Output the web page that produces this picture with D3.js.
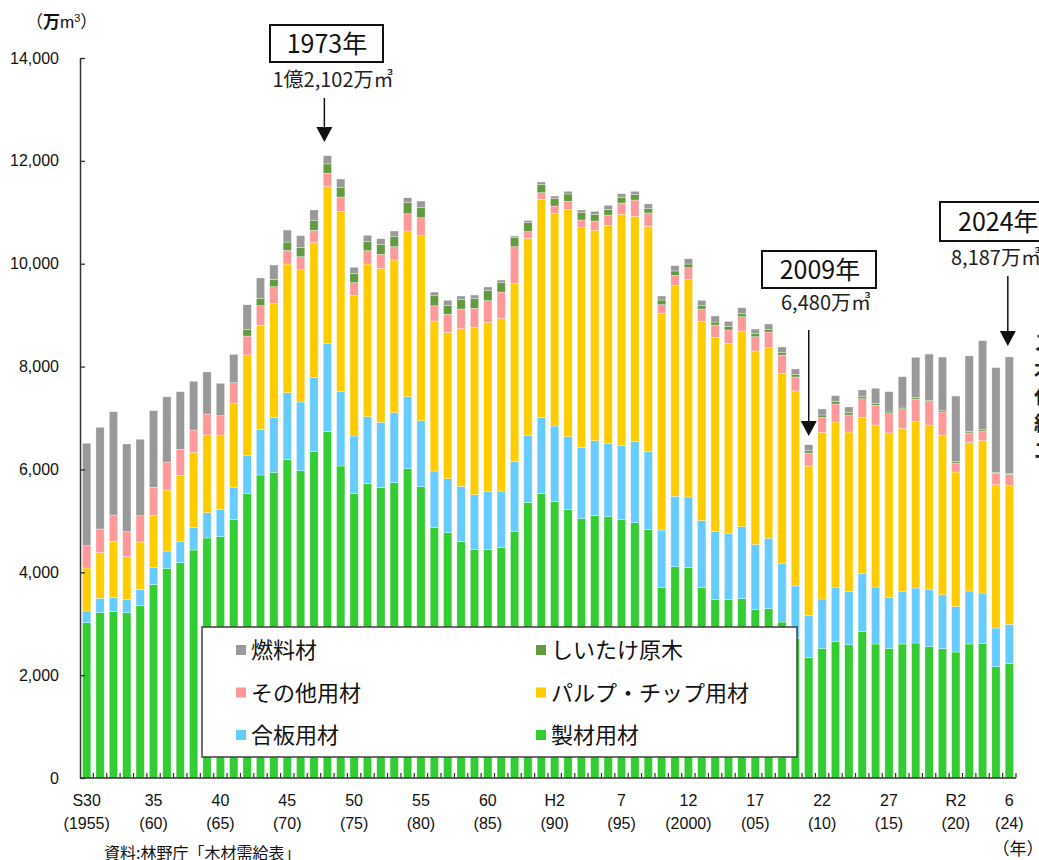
<!DOCTYPE html>
<meta charset="utf-8">
<script src="https://d3js.org/d3.v7.min.js"></script>
<body style="margin:0;background:#fff">
<div id="chart"></div>
<script>
// 用途別木材需要量（万m3）, 1955-2024
var years = [1955,1956,1957,1958,1959,1960,1961,1962,1963,1964,
	1965,1966,1967,1968,1969,1970,1971,1972,1973,1974,
	1975,1976,1977,1978,1979,1980,1981,1982,1983,1984,
	1985,1986,1987,1988,1989,1990,1991,1992,1993,1994,
	1995,1996,1997,1998,1999,2000,2001,2002,2003,2004,
	2005,2006,2007,2008,2009,2010,2011,2012,2013,2014,
	2015,2016,2017,2018,2019,2020,2021,2022,2023,2024];
var sawn = [3020,3214,3234,3214,3350,3766,4077,4186,4433,4667,
	4692,5022,5528,5892,5944,6197,5975,6345,6735,6067,
	5528,5722,5645,5742,6014,5664,4867,4770,4595,4439,
	4439,4478,4789,5361,5536,5376,5217,5042,5100,5081,
	5022,4964,4828,3700,4109,4089,3700,3467,3467,3486,
	3272,3292,3033,2709,2343,2522,2650,2592,2845,2606,
	2522,2606,2625,2553,2514,2450,2606,2611,2164,2222];
var plywood = [227,280,272,261,319,323,336,408,434,492,
	533,622,747,889,1069,1295,1336,1439,1719,1452,
	1122,1303,1272,1361,1400,1283,1102,1050,1077,1069,
	1128,1102,1361,1303,1478,1468,1419,1388,1458,1419,
	1439,1575,1521,1122,1369,1375,1307,1326,1283,1400,
	1268,1371,1134,1025,817,959,1050,1031,1128,1108,
	988,1017,1069,1108,1048,885,1031,986,752,766];
var pulp = [836,887,1097,828,920,1019,1186,1291,1466,1511,
	1431,1647,1950,2022,2209,2502,2572,2625,3045,3500,
	2728,2969,2994,2969,3222,3597,2917,2847,3064,3255,
	3294,3350,3469,3831,4239,4136,4422,4284,4091,4247,
	4499,4383,4379,4214,4095,4225,3873,3776,3702,3805,
	3762,3704,3702,3792,2905,3241,3222,3105,3041,3150,
	3199,3177,3234,3202,3107,2615,2884,2961,2786,2695];
var other = [434,461,511,486,511,544,544,506,434,408,
	389,395,369,381,331,266,253,241,261,278,
	253,259,272,259,336,350,297,350,383,369,
	420,519,712,128,128,142,156,136,181,200,
	220,317,259,167,202,233,239,239,259,278,
	278,305,356,272,253,292,350,331,362,383,
	375,381,441,453,447,175,189,189,222,222];
var shiitake = [0,0,0,0,0,0,0,0,0,0,
	0,0,130,144,144,161,183,187,181,181,
	183,183,194,194,214,194,194,167,181,187,
	194,181,175,175,163,142,142,142,130,111,
	111,103,84,91,84,72,64,58,72,58,
	58,45,45,52,45,45,45,45,39,39,
	33,33,33,27,25,25,25,25,20,20];
var fuel = [1991,1977,2009,1705,1486,1489,1270,1120,947,817,
	630,552,478,395,278,233,226,208,161,169,
	117,117,109,111,97,130,72,105,72,72,
	72,52,33,39,45,52,52,52,58,78,
	70,66,91,78,103,103,105,117,97,117,
	91,111,111,103,117,117,117,111,130,292,
	395,589,778,900,1044,1277,1472,1731,2036,2262];

var keys = ["sawn","plywood","pulp","other","shiitake","fuel"];
var names = {fuel:"燃料材",shiitake:"しいたけ原木",other:"その他用材",pulp:"パルプ・チップ用材",plywood:"合板用材",sawn:"製材用材"};
var colors = {fuel:"#999999",shiitake:"#629a3e",other:"#ff9999",pulp:"#ffcc00",plywood:"#66ccff",sawn:"#33cc33"};
var tickYears = [1955,1960,1965,1970,1975,1980,1985,1990,1995,2000,2005,2010,2015,2020,2024];
var tickTop = ["S30","35","40","45","50","55","60","H2","7","12","17","22","27","R2","6"];
var tickBottom = ["(1955)","(60)","(65)","(70)","(75)","(80)","(85)","(90)","(95)","(2000)","(05)","(10)","(15)","(20)","(24)"];
// 注記
var notes = [
	{year:1973,title:"1973年",value:"1億2,102万㎥"},
	{year:2009,title:"2009年",value:"6,480万㎥"},
	{year:2024,title:"2024年",value:"8,187万㎥"}
];

var W = 1039, H = 860;
var jp = "'Noto Sans CJK JP','Noto Sans',sans-serif";
var lat = "'Liberation Sans',Arial,sans-serif";
var svg = d3.select("#chart").append("svg").attr("width",W).attr("height",H)
	.style("font-family",jp);

var x = d3.scaleBand().domain(years).range([80,1016]).paddingInner(0.38).paddingOuter(0.19);
var y = d3.scaleLinear().domain([0,14000]).range([778,58]);

var table = years.map(function(yr,i){
	return {year:yr,sawn:sawn[i],plywood:plywood[i],pulp:pulp[i],other:other[i],shiitake:shiitake[i],fuel:fuel[i]};
});
var series = d3.stack().keys(keys)(table);

// 棒
svg.append("g").selectAll("g").data(series).join("g")
	.attr("fill",function(d){return colors[d.key];})
	.selectAll("rect").data(function(d){return d;}).join("rect")
	.attr("x",function(d){return x(d.data.year);})
	.attr("y",function(d){return y(d[1]);})
	.attr("width",x.bandwidth())
	.attr("height",function(d){return Math.max(0,y(d[0])-y(d[1]));})
	.attr("stroke","rgba(255,255,255,0.55)").attr("stroke-width",0.6);

// y軸
var yAxis = svg.append("g").attr("transform","translate(80,0)")
	.call(d3.axisLeft(y).tickValues(d3.range(0,14001,2000)).tickFormat(d3.format(","))
		.tickSizeInner(-5).tickSizeOuter(0).tickPadding(21));
yAxis.select(".domain").attr("stroke","#333").attr("stroke-width",1.5);
yAxis.selectAll(".tick line").attr("stroke","#333").attr("stroke-width",1.3);
yAxis.selectAll("text").attr("font-family",lat).attr("font-size",16).attr("fill","#111");

// x軸（棒の間の目盛）
var xb = svg.append("g");
xb.append("line").attr("x1",80).attr("x2",1016).attr("y1",778).attr("y2",778)
	.attr("stroke","#333").attr("stroke-width",1.6);
var step = x.step();
xb.selectAll("line.t").data(years.slice(1)).join("line").attr("class","t")
	.attr("x1",function(d){return x(d)-(step-x.bandwidth())/2;})
	.attr("x2",function(d){return x(d)-(step-x.bandwidth())/2;})
	.attr("y1",778).attr("y2",773).attr("stroke","#333").attr("stroke-width",1.2);
xb.append("line").attr("x1",1016).attr("x2",1016).attr("y1",778).attr("y2",773).attr("stroke","#333").attr("stroke-width",1.2);

var xl = svg.append("g").attr("text-anchor","middle").attr("fill","#111");
tickYears.forEach(function(yr,i){
	var cx = x(yr)+x.bandwidth()/2;
	xl.append("text").attr("x",cx).attr("y",806).attr("font-family",lat).attr("font-size",16).text(tickTop[i]);
	xl.append("text").attr("x",cx).attr("y",829).attr("font-family",lat).attr("font-size",16).text(tickBottom[i]);
});
svg.append("text").attr("x",1018).attr("y",855).attr("text-anchor","middle").attr("font-size",17).attr("fill","#111").text("（年）");
svg.append("text").attr("x",104).attr("y",859).attr("font-size",16).attr("fill","#111").text("資料:林野庁「木材需給表」");

// 単位
var unit = svg.append("text").attr("x",26).attr("y",28).attr("font-size",17).attr("fill","#111");
unit.append("tspan").text("（");
unit.append("tspan").attr("font-weight","bold").text("万");
unit.append("tspan").attr("font-family",lat).text("m");
unit.append("tspan").attr("font-family",lat).attr("font-size",11).attr("dy",-6).text("3");
unit.append("tspan").attr("dy",6).text("）");

// 凡例
var lg = svg.append("g");
lg.append("rect").attr("x",202).attr("y",627).attr("width",595).attr("height",130)
	.attr("fill","#fff").attr("stroke","#404040").attr("stroke-width",1.5);
var legendOrder = [["fuel","shiitake"],["other","pulp"],["plywood","sawn"]];
legendOrder.forEach(function(row,r){
	row.forEach(function(k,c){
		var lx = c===0 ? 236 : 536, ly = 650 + r*42.5;
		lg.append("rect").attr("x",lx).attr("y",ly-5).attr("width",10).attr("height",10).attr("fill",colors[k]);
		lg.append("text").attr("x",lx+15).attr("y",ly+8).attr("font-size",22).attr("fill","#111").text(names[k]);
	});
});

// 注記ボックスと矢印
var boxes = {1973:{bx:270,by:25,bw:113,bh:37,tx:327,vy:87,vx:333,a0:98,a1:142,anchor:"middle",dx:-3},
	2009:{bx:762,by:251,bw:114,bh:37,tx:820,vy:310,vx:826,a0:330,a1:436,anchor:"middle",dx:0},
	2024:{bx:940,by:202,bw:122,bh:39,tx:958,vy:265,vx:951,a0:276,a1:346,anchor:"start",dx:-1.5}};
notes.forEach(function(n){
	var b = boxes[n.year];
	var g = svg.append("g");
	g.append("rect").attr("x",b.bx).attr("y",b.by).attr("width",b.bw).attr("height",b.bh)
		.attr("fill","#fff").attr("stroke","#111").attr("stroke-width",2);
	g.append("text").attr("x",b.tx).attr("y",b.by+b.bh/2+9).attr("text-anchor",b.anchor)
		.attr("font-size",25).attr("fill","#111").text(n.title);
	g.append("text").attr("x",b.vx).attr("y",b.vy).attr("text-anchor",b.anchor)
		.attr("font-size",20).attr("fill","#222").text(n.value);
	var ax = x(n.year)+x.bandwidth()/2+b.dx;
	g.append("line").attr("x1",ax).attr("x2",ax).attr("y1",b.a0).attr("y2",b.a1-14)
		.attr("stroke","#111").attr("stroke-width",1.5);
	g.append("path").attr("d","M"+(ax-8)+","+(b.a1-15)+"L"+(ax+8)+","+(b.a1-15)+"L"+ax+","+b.a1+"Z").attr("fill","#111");
});

// 右端で切れている説明文
var side = ["スギ","木質","化石","総需","エネ"];
side.forEach(function(s,i){
	svg.append("text").attr("x",1034).attr("y",350+i*27).attr("font-size",20).attr("font-weight","bold")
		.attr("fill","#222").text(s);
});
</script>
</body>
